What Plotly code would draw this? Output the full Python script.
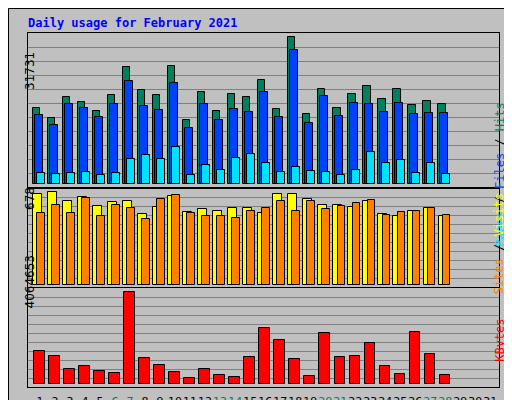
import plotly.graph_objects as go

days = list(range(1, 32))
data_days = list(range(1, 29))
weekend = [6, 7, 13, 14, 20, 21, 27, 28]

hits = [16400, 14250, 18700, 17640, 15700, 19150, 25200, 20230, 19150, 25400, 13750, 19800, 15700, 19370,
        18700, 22400, 16130, 31731, 15050, 20450, 16340, 19370, 21100, 18290, 20450, 17000, 17860, 17200]
files = [14830, 12670, 17200, 16340, 14400, 17200, 22170, 16780, 15910, 21740, 12030, 17200, 13750, 16130,
         15480, 19800, 14400, 28870, 13100, 18940, 14620, 17420, 17200, 15480, 17420, 15050, 15260, 15260]
pages = [2300, 2100, 2300, 2530, 1880, 2300, 5330, 6200, 5330, 7920, 1880, 4040, 2960, 5550,
         6410, 4470, 2530, 3600, 2740, 2530, 1880, 2960, 6840, 4470, 5120, 2300, 4470, 2100]
visits = [663, 678, 610, 639, 573, 603, 610, 515, 566, 647, 530, 552, 537, 559,
          559, 522, 661, 661, 625, 581, 581, 566, 610, 515, 500, 537, 559, 500]
sites = [522, 581, 522, 632, 500, 581, 559, 478, 625, 654, 522, 500, 500, 486,
         537, 559, 610, 537, 610, 552, 573, 595, 617, 508, 530, 537, 559, 508]
kbytes = [1485000, 1263000, 685000, 818000, 596000, 507000, 4064653, 1174000, 863000, 551000, 285000, 685000,
          418000, 329000, 1218000, 2508000, 1974000, 1130000, 374000, 2286000, 1218000, 1263000, 1841000,
          818000, 462000, 2330000, 1352000, 418000]

BG = "#C0C0C0"
GRID = "#808080"
PW, PH = 470.7, 354.0


def px(x):
    return (x - 20) / PW


def py(y):
    return (379 - y) / PH


fig = go.Figure()


def add_bar(y, color, offset, width, row):
    fig.add_trace(go.Bar(x=data_days, y=y, offset=offset, width=width,
                         marker=dict(color=color, line=dict(color="black", width=1)),
                         xaxis="x" if row == 1 else f"x{row}",
                         yaxis="y" if row == 1 else f"y{row}", showlegend=False))


add_bar(hits, "#00805C", -0.47, 0.49, 1)
add_bar(files, "#0040FF", -0.33, 0.53, 1)
add_bar(pages, "#00E0FF", -0.2, 0.53, 1)
add_bar(visits, "#FFFF00", -0.45, 0.56, 2)
add_bar(sites, "#FF8000", -0.18, 0.49, 2)
add_bar(kbytes, "#FF0000", -0.38, 0.69, 3)

ticktext = [f"<span style='color:#00805C'>{d}</span>" if d in weekend else str(d) for d in days]

xcommon = dict(range=[0.2, 31.58], showgrid=False, zeroline=False, showline=True, mirror=True,
               linecolor="black", linewidth=1, automargin=False)
ycommon = dict(showgrid=True, gridcolor=GRID, gridwidth=1, zeroline=False, showticklabels=False,
               ticks="", showline=True, mirror=True, linecolor="black", linewidth=1, automargin=False)

fig.update_layout(
    width=512, height=400, paper_bgcolor=BG, plot_bgcolor=BG,
    margin=dict(l=20, r=21.3, t=25, b=21, autoexpand=False),
    barmode="overlay", bargap=0,
    xaxis=dict(**xcommon, anchor="y", showticklabels=False),
    xaxis2=dict(**xcommon, anchor="y2", showticklabels=False),
    xaxis3=dict(**xcommon, anchor="y3", tickmode="array", tickvals=days, ticktext=ticktext, ticks="",
                tickangle=0, ticklabelstandoff=4,
                tickfont=dict(family="DejaVu Sans", size=11, color="black")),
    yaxis=dict(**ycommon, domain=[py(180), 1], range=[-864, 32600], tick0=2310, dtick=3024),
    yaxis2=dict(**ycommon, domain=[py(279.3), py(180)], range=[-19, 707], tick0=46.8, dtick=65.8),
    yaxis3=dict(**ycommon, domain=[0, py(280)], range=[-115600, 4255800], tick0=240000, dtick=400000),
    font=dict(family="DejaVu Sans", size=12, color="black"),
)

ann = [
    dict(text="<b>Daily usage for February 2021</b>", x=px(18), y=py(15), xanchor="left", yanchor="middle",
         font=dict(family="DejaVu Sans Mono", size=12, color="#0000FF")),
    dict(text="31731", x=px(13), y=py(42), textangle=-90),
    dict(text="678", x=px(13), y=py(190), textangle=-90),
    dict(text="4064653", x=px(13), y=py(302), textangle=-90),
    dict(text="<span style='color:#00E0FF'>Pages</span> / <span style='color:#0040FF'>Files</span> / "
              "<span style='color:#00805C'>Hits</span>", x=px(500), y=py(92), textangle=-90,
         font=dict(family="DejaVu Sans Mono", size=12)),
    dict(text="<span style='color:#FF8000'>Sites</span> / <span style='color:#FFFF00'>Visits</span>",
         x=px(500), y=py(236), textangle=-90, font=dict(family="DejaVu Sans Mono", size=12)),
    dict(text="<span style='color:#FF0000'>KBytes</span>", x=px(500), y=py(356), textangle=-90,
         font=dict(family="DejaVu Sans Mono", size=12)),
]
for a in ann:
    a.setdefault("font", dict(family="DejaVu Sans", size=12, color="black"))
    fig.add_annotation(xref="paper", yref="paper", showarrow=False, **a)

# outer frame with bevel
fig.add_shape(type="rect", xref="paper", yref="paper", x0=px(0.5), x1=px(511.5), y0=py(399.5), y1=py(0.5),
              line=dict(color="black", width=1), layer="below")
fig.add_shape(type="line", xref="paper", yref="paper", x0=px(508), x1=px(508), y0=py(396), y1=py(5),
              line=dict(color="#808080", width=4))
fig.add_shape(type="line", xref="paper", yref="paper", x0=px(5), x1=px(510), y0=py(396), y1=py(396),
              line=dict(color="#808080", width=4))

fig.write_html("out.html")
